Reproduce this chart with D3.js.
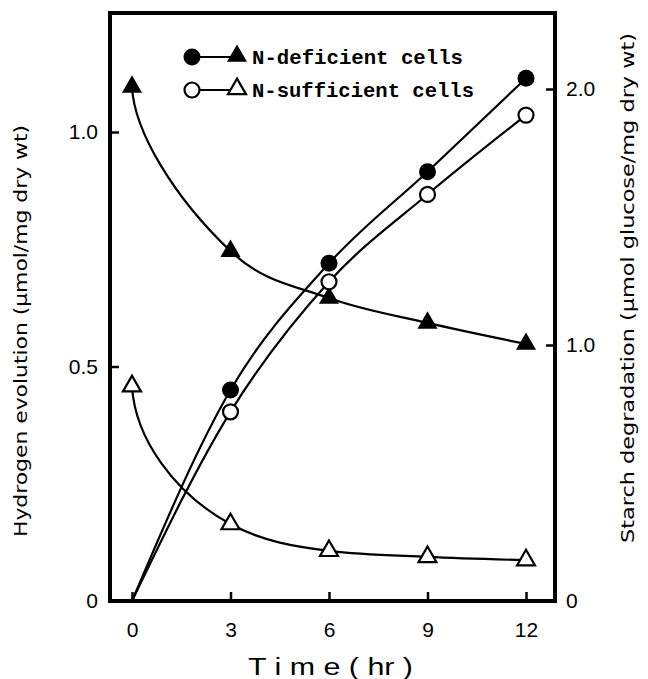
<!DOCTYPE html>
<html>
<head>
<meta charset="utf-8">
<script src="https://cdn.jsdelivr.net/npm/d3@7/dist/d3.min.js"></script>
<style>
  html, body { margin: 0; padding: 0; background: #fff; }
  svg { display: block; }
</style>
</head>
<body>
<svg id="chart" width="648" height="679"></svg>
<script>
// ---- data ----
const hours = [0, 3, 6, 9, 12];
const h2Deficient = [1.096, 0.746, 0.646, 0.593, 0.548];      // filled triangles, left axis
const h2Sufficient = [0.458, 0.164, 0.107, 0.094, 0.087];     // open triangles, left axis
const starchDeficient = [0, 0.824, 1.319, 1.677, 2.042];      // filled circles, right axis
const starchSufficient = [0, 0.739, 1.247, 1.588, 1.898];     // open circles, right axis
const timeTicks = [0, 3, 6, 9, 12];
const leftTicks = [0, 0.5, 1.0];
const rightTicks = [0, 1.0, 2.0];
const legendLabels = ["N-deficient cells", "N-sufficient cells"];
const xTitle = "T i m e ( hr )";
const leftTitle = "Hydrogen evolution (\u03bcmol/mg dry wt)";
const rightTitle = "Starch degradation (\u03bcmol glucose/mg dry wt)";

// ---- layout ----
const frame = { left: 110, right: 555, top: 13, bottom: 601 };
const svg = d3.select("#chart");

const x = d3.scaleLinear().domain([0, 12]).range([132, 526]);
const yL = d3.scaleLinear().domain([0, 1]).range([frame.bottom, 132]);
const yR = d3.scaleLinear().domain([0, 2]).range([frame.bottom, 89]);

const tickFont = "'Liberation Sans Narrow', 'Liberation Sans', Arial, sans-serif";
const fmt = d => d === 0 ? "0" : d3.format(".1f")(d);

// Decay curve: monotone Hermite tangents; first segment is a convex arc
// leaving the first point almost vertically (like a hand-drawn decay curve).
function decayCurve(k, f) {
  return function(context) {
    let pts = [];
    return {
      areaStart() {}, areaEnd() {},
      lineStart() { pts = []; },
      point(px, py) { pts.push([+px, +py]); },
      lineEnd() {
        const n = pts.length;
        if (!n) return;
        context.moveTo(pts[0][0], pts[0][1]);
        if (n === 1) return;
        const h = [], s = [];
        for (let i = 0; i < n - 1; i++) {
          h.push(pts[i + 1][0] - pts[i][0]);
          s.push((pts[i + 1][1] - pts[i][1]) / h[i]);
        }
        const t = new Array(n);
        for (let i = 1; i < n - 1; i++) {
          const s0 = s[i - 1], s1 = s[i];
          const p = (s0 * h[i] + s1 * h[i - 1]) / (h[i - 1] + h[i]);
          t[i] = (Math.sign(s0) + Math.sign(s1)) * Math.min(Math.abs(s0), Math.abs(s1), 0.5 * Math.abs(p)) || 0;
        }
        t[n - 1] = n > 2 ? (3 * s[n - 2] - t[n - 2]) / 2 : s[0];
        for (let i = 0; i < n - 1; i++) {
          const [x0, y0] = pts[i], [x1, y1] = pts[i + 1];
          if (i === 0 && n > 2) {
            const m0 = k * s[0], m1 = t[1];
            const xi = (y1 - y0 - m1 * x1 + m0 * x0) / (m0 - m1);
            const yi = y0 + m0 * (xi - x0);
            context.bezierCurveTo(
              x0 + f * (xi - x0), y0 + f * (yi - y0),
              x1 + f * (xi - x1), y1 + f * (yi - y1),
              x1, y1);
          } else {
            const dx = h[i] / 3;
            const ta = i === 0 ? s[0] : t[i];
            context.bezierCurveTo(x0 + dx, y0 + dx * ta, x1 - dx, y1 - dx * t[i + 1], x1, y1);
          }
        }
      }
    };
  };
}

// axes (ticks pointing inward)
const gB = svg.append("g").attr("transform", `translate(0,${frame.bottom})`)
  .call(d3.axisBottom(x).tickValues(timeTicks).tickSize(-9).tickPadding(21).tickFormat(d3.format("d")));
const gL = svg.append("g").attr("transform", `translate(${frame.left},0)`)
  .call(d3.axisLeft(yL).tickValues(leftTicks).tickSize(-9).tickPadding(12).tickFormat(fmt));
const gR = svg.append("g").attr("transform", `translate(${frame.right},0)`)
  .call(d3.axisRight(yR).tickValues(rightTicks).tickSize(-9).tickPadding(11).tickFormat(fmt));

[gB, gL, gR].forEach(g => {
  g.select(".domain").remove();
  g.selectAll(".tick line").attr("stroke", "#000").attr("stroke-width", 2.5);
  g.selectAll(".tick text").attr("fill", "#000")
    .style("font-family", tickFont).style("font-size", "21px");
});
gL.selectAll(".tick").filter(d => d === 0).select("line").remove();
gR.selectAll(".tick").filter(d => d === 0).select("line").remove();

// frame
svg.append("rect")
  .attr("x", frame.left).attr("y", frame.top)
  .attr("width", frame.right - frame.left).attr("height", frame.bottom - frame.top)
  .attr("fill", "none").attr("stroke", "#000").attr("stroke-width", 4);

// curves
const lineL = d3.line().x((d, i) => x(hours[i])).y(d => yL(d)).curve(decayCurve(12, 0.6));
const lineR = d3.line().x((d, i) => x(hours[i])).y(d => yR(d)).curve(d3.curveMonotoneX);
[h2Deficient, h2Sufficient].forEach(s =>
  svg.append("path").attr("d", lineL(s)).attr("fill", "none").attr("stroke", "#000").attr("stroke-width", 2.2));
[starchDeficient, starchSufficient].forEach(s =>
  svg.append("path").attr("d", lineR(s)).attr("fill", "none").attr("stroke", "#000").attr("stroke-width", 2.2));

// markers
const triFilled = d3.symbol().type(d3.symbolTriangle).size(175);
const triOpen = d3.symbol().type(d3.symbolTriangle).size(140);

svg.append("g").selectAll("path").data(h2Deficient).join("path")
  .attr("d", triFilled).attr("transform", (d, i) => `translate(${x(hours[i])},${yL(d)})`)
  .attr("fill", "#000");
svg.append("g").selectAll("path").data(h2Sufficient).join("path")
  .attr("d", triOpen).attr("transform", (d, i) => `translate(${x(hours[i])},${yL(d)})`)
  .attr("fill", "#fff").attr("stroke", "#000").attr("stroke-width", 2.2);

const starchIdx = hours.map((h, i) => i).filter(i => hours[i] > 0);
svg.append("g").selectAll("circle").data(starchIdx).join("circle")
  .attr("cx", i => x(hours[i])).attr("cy", i => yR(starchDeficient[i])).attr("r", 8.5)
  .attr("fill", "#000");
svg.append("g").selectAll("circle").data(starchIdx).join("circle")
  .attr("cx", i => x(hours[i])).attr("cy", i => yR(starchSufficient[i])).attr("r", 7.5)
  .attr("fill", "#fff").attr("stroke", "#000").attr("stroke-width", 2.2);

// legend
const legendRows = [{ y: 57, filled: true }, { y: 90, filled: false }];
legendRows.forEach((r, k) => {
  const g = svg.append("g");
  g.append("line").attr("x1", 192).attr("x2", 234).attr("y1", r.y).attr("y2", r.y)
    .attr("stroke", "#000").attr("stroke-width", 2.2);
  g.append("circle").attr("cx", 192).attr("cy", r.y).attr("r", r.filled ? 8.5 : 7.5)
    .attr("fill", r.filled ? "#000" : "#fff").attr("stroke", r.filled ? "none" : "#000").attr("stroke-width", 2.2);
  g.append("path").attr("d", r.filled ? triFilled() : triOpen())
    .attr("transform", `translate(237,${r.y - 1})`)
    .attr("fill", r.filled ? "#000" : "#fff").attr("stroke", r.filled ? "none" : "#000").attr("stroke-width", 2.2);
  g.append("text").attr("x", 252).attr("y", r.y + 6.5)
    .attr("textLength", k === 0 ? 211 : 222).attr("lengthAdjust", "spacingAndGlyphs")
    .style("font-family", "'Liberation Mono', 'Courier New', monospace")
    .style("font-weight", "bold").style("font-size", "21px")
    .text(legendLabels[k]);
});

// axis titles
svg.append("text")
  .attr("transform", `translate(${(248 + 413) / 2},675)`)
  .attr("text-anchor", "middle").attr("textLength", 165).attr("lengthAdjust", "spacingAndGlyphs")
  .style("font-family", tickFont).style("font-size", "23px")
  .text(xTitle);

svg.append("text")
  .attr("transform", `translate(27,${(537 + 125) / 2}) rotate(-90)`)
  .attr("text-anchor", "middle").attr("textLength", 412).attr("lengthAdjust", "spacingAndGlyphs")
  .style("font-family", "'DejaVu Sans', sans-serif").style("font-size", "18px")
  .text(leftTitle);

svg.append("text")
  .attr("transform", `translate(634,${(543 + 33) / 2}) rotate(-90)`)
  .attr("text-anchor", "middle").attr("textLength", 510).attr("lengthAdjust", "spacingAndGlyphs")
  .style("font-family", "'DejaVu Sans', sans-serif").style("font-size", "18px")
  .text(rightTitle);
</script>
</body>
</html>
